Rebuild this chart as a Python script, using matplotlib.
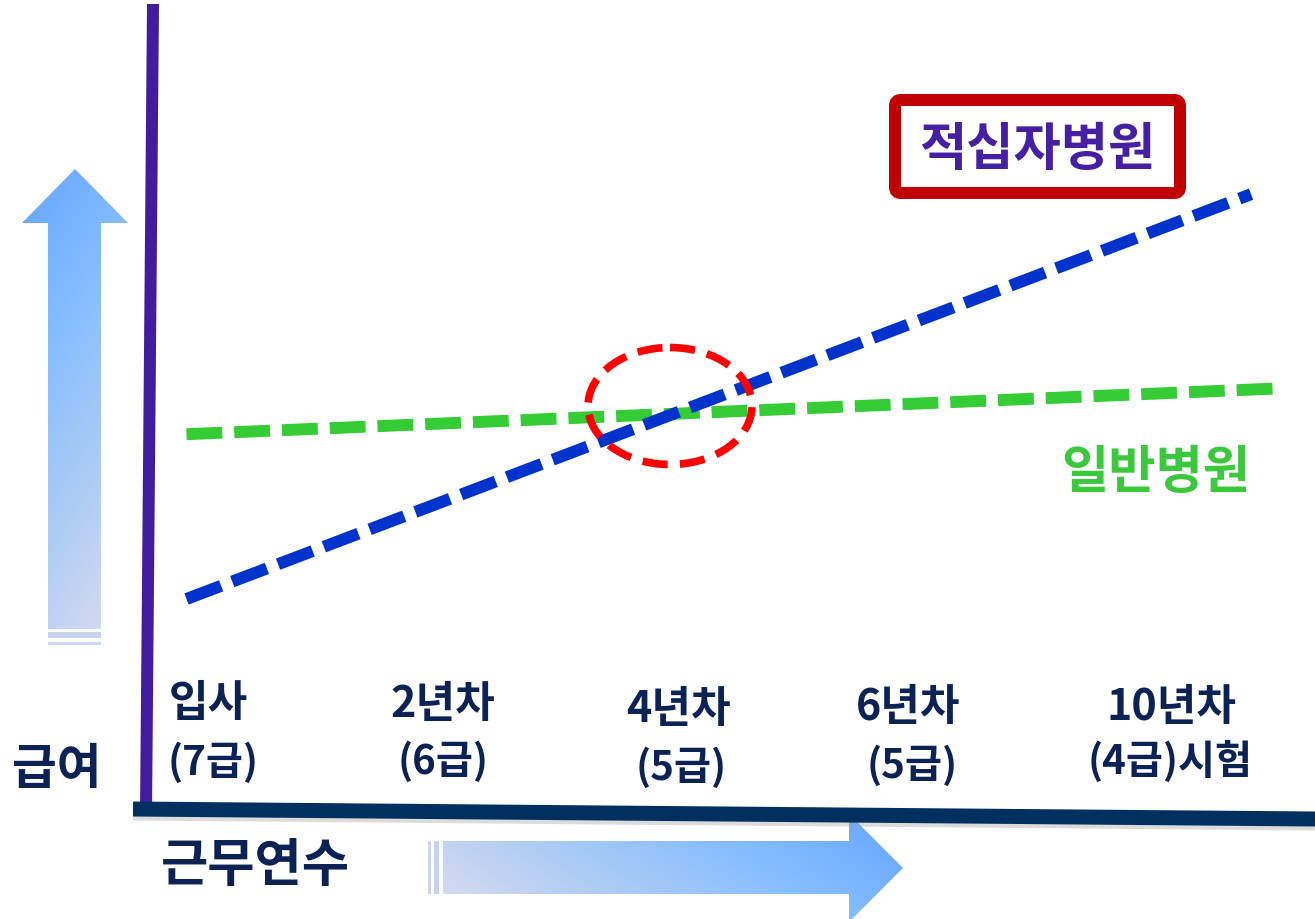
import numpy as np
import matplotlib
matplotlib.use("Agg")
import matplotlib.pyplot as plt
from matplotlib.patches import Polygon, Rectangle, Ellipse, FancyBboxPatch
from matplotlib.colors import LinearSegmentedColormap
from matplotlib.transforms import blended_transform_factory, offset_copy

plt.rcParams['font.family'] = ['Noto Sans CJK KR', 'DejaVu Sans']

# ---------------- data ----------------
categories = ["입사", "2년차", "4년차", "6년차", "10년차"]
grades = ["(7급)", "(6급)", "(5급)", "(5급)", "(4급)시험"]
cat_pos = [0, 1, 2, 3, 4]

redcross_x = [-0.1, 4.43]
redcross_salary = [25.0, 75.6]
general_x = [-0.1, 4.53]
general_salary = [45.6, 51.3]

series_names = ["적십자병원", "일반병원"]
x_title = "근무연수"
y_title = "급여"

# ---------------- layout ----------------
W, H = 1315, 920
fig = plt.figure(figsize=(W / 100, H / 100), dpi=100)
bg = fig.add_axes([0, 0, 1, 1])
bg.axis('off')
ax = fig.add_axes([0, 0, 1, 1], zorder=1)
ax.patch.set_visible(False)
ax.axis('off')
PX0, PXS = 210, 235
ax.set_xlim(-PX0 / PXS, (W - PX0) / PXS)
ax.set_ylim((800 - H) / 8, 800 / 8)

cmap = LinearSegmentedColormap.from_list(
    'g', ['#E2DEF0', '#B0CDF3', '#84BDFF', '#66A4FF'])


def grad_poly(verts, extent, fn):
    x0, x1, y0, y1 = extent
    n = 200
    u, v = np.meshgrid(np.linspace(0, 1, n), np.linspace(0, 1, n))
    t = fn(u, v)
    poly = Polygon(verts, closed=True, facecolor='none', edgecolor='none')
    bg.add_patch(poly)
    im = bg.imshow(t, cmap=cmap, extent=(x0, x1, y1, y0), origin='upper',
                   vmin=0, vmax=1, aspect='auto', interpolation='bilinear')
    im.set_clip_path(poly)


# up arrow
up = [(22, 224), (75, 170), (128, 224), (101, 224), (101, 630), (48, 630), (48, 224)]
grad_poly(up, (22, 128, 170, 650), lambda u, v: 1 - (v + 0.35 * u) / 1.35)
bg.add_patch(Rectangle((48, 633), 53, 6, color='#C9D3EE', lw=0))
bg.add_patch(Rectangle((48, 643), 53, 3, color='#CFD6EF', lw=0))

# right arrow
rt = [(443, 842), (849, 842), (849, 815), (903, 869), (849, 923), (849, 895), (443, 895)]
grad_poly(rt, (428, 903, 815, 923), lambda u, v: (u + 0.35 * (1 - v)) / 1.35)
bg.add_patch(Rectangle((428, 842), 3, 53, color='#CCD6F0', lw=0))
bg.add_patch(Rectangle((434, 842), 5, 53, color='#C6D3F0', lw=0))

# axis lines
bg.plot([133, 1315], [814, 824], color='#999999', alpha=0.35, lw=15 * 0.72,
        solid_capstyle='butt')
bg.plot([153, 146], [5, 815], color='#421C9F', lw=12 * 0.72, solid_capstyle='butt')
bg.plot([133, 1315], [810, 820], color='#00305F', lw=15 * 0.72, solid_capstyle='butt')

# data lines
ax.plot(general_x, general_salary, color='#35CC35', lw=8.6, dashes=(3.0, 1.0),
        dash_capstyle='butt', zorder=3)
ax.plot(redcross_x, redcross_salary, color='#0033CC', lw=8.6, dashes=(3.1, 1.0),
        dash_capstyle='butt', zorder=4)

# red dashed ellipse (on top)
ell = Ellipse((670, 407), 164, 117, fill=False, ec='#FF0000', lw=5.5,
              linestyle=(0, (3.3, 1.6)), transform=bg.transData, zorder=6)
ax.add_patch(ell)

# legend-like box
box = FancyBboxPatch((895, 101), 285, 93, boxstyle='round,pad=0,rounding_size=6',
                     lw=12 * 0.72, ec='#C00000', fc='white')
bg.add_patch(box)
bg.text(1037, 150, series_names[0], color='#4520A2', fontsize=37,
        fontweight='bold', ha='center', va='center')
bg.text(1156, 473, series_names[1], color='#3CC83C', fontsize=37,
        fontweight='bold', ha='center', va='center')

# axis titles
navy = '#0C2254'
bg.text(57, 770, y_title, color=navy, fontsize=35, fontweight='bold',
        ha='center', va='center')
bg.text(255, 866, x_title, color=navy, fontsize=37, fontweight='bold',
        ha='center', va='center')

# category labels
tr = blended_transform_factory(ax.transData, bg.transData)
nudge1 = [-2, -2, -2, -7, 21]
nudge2 = [3, -2, 1, -3, 20]
y1 = [703, 704, 709, 707, 707]
y2 = [763, 762, 768, 766, 762]
for i, (c, g) in enumerate(zip(categories, grades)):
    t1 = offset_copy(tr, fig=fig, x=nudge1[i], y=0, units='dots')
    t2 = offset_copy(tr, fig=fig, x=nudge2[i], y=0, units='dots')
    ax.text(cat_pos[i], y1[i], c, transform=t1, color=navy, fontsize=31,
            fontweight='bold', ha='center', va='center')
    ax.text(cat_pos[i], y2[i], g, transform=t2, color=navy, fontsize=29,
            fontweight='bold', ha='center', va='center')

bg.set_xlim(0, W)
bg.set_ylim(H, 0)
fig.savefig('out.png', dpi=100)
